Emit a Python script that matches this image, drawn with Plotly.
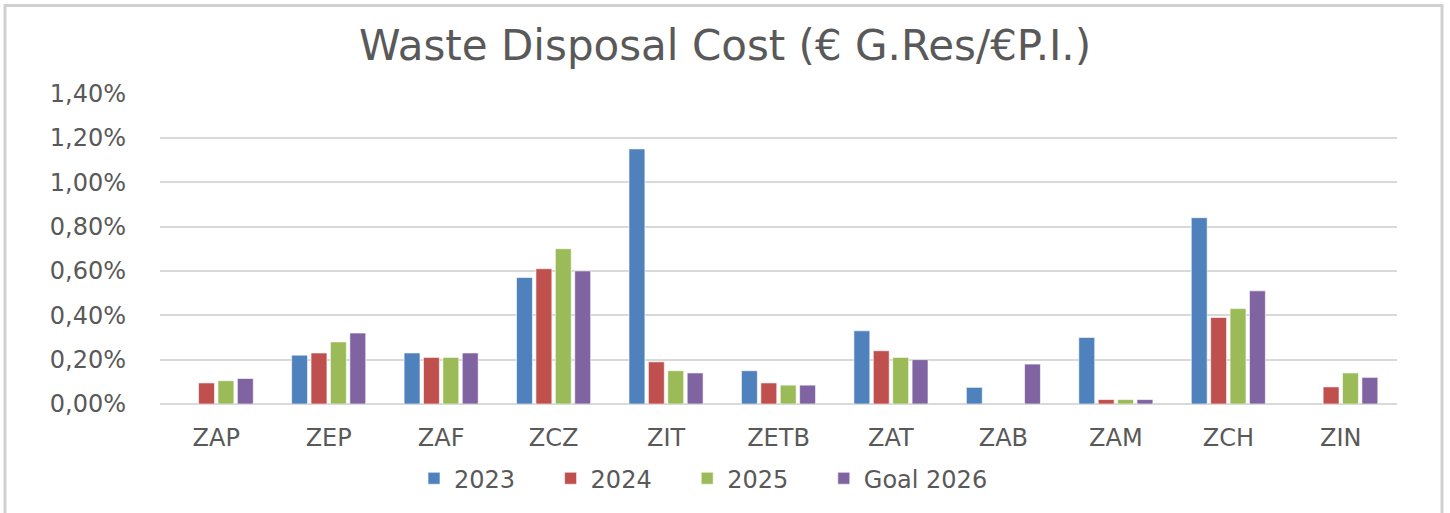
import plotly.graph_objects as go

categories = ["ZAP", "ZEP", "ZAF", "ZCZ", "ZIT", "ZETB", "ZAT", "ZAB", "ZAM", "ZCH", "ZIN"]
series_names = ["2023", "2024", "2025", "Goal 2026"]
v2023 = [None, 0.0022, 0.0023, 0.0057, 0.0115, 0.0015, 0.0033, 0.00075, 0.0030, 0.0084, None]
v2024 = [0.00095, 0.0023, 0.0021, 0.0061, 0.0019, 0.00095, 0.0024, None, 0.0002, 0.0039, 0.00077]
v2025 = [0.00105, 0.0028, 0.0021, 0.0070, 0.0015, 0.00085, 0.0021, None, 0.0002, 0.0043, 0.0014]
vgoal = [0.00115, 0.0032, 0.0023, 0.0060, 0.0014, 0.00085, 0.0020, 0.0018, 0.0002, 0.0051, 0.0012]
colors = ["#4F81BD", "#C0504D", "#9BBB59", "#8064A2"]
y_ticks = [0, 0.002, 0.004, 0.006, 0.008, 0.010, 0.012, 0.014]

FONT = "DejaVu Sans"
GREY = "#595959"
PAD = "\u00a0" * 4  # legend spacing between entries

fig = go.Figure()
for i, (name, vals, col) in enumerate(zip(series_names, [v2023, v2024, v2025, vgoal], colors)):
    label = name + (PAD if i < len(series_names) - 1 else "")
    fig.add_trace(go.Bar(
        x=categories, y=vals, name=label,
        marker=dict(color=col, line=dict(color="rgba(255,255,255,0.6)", width=1)),
    ))

fig.update_layout(
    width=1450, height=513,
    paper_bgcolor="white", plot_bgcolor="white",
    margin=dict(l=160, r=53, t=93, b=107),
    barmode="group", bargap=0.31, bargroupgap=0.18,
    separators=", ",
    title=dict(text="Waste Disposal Cost (€ G.Res/€P.I.)", x=0.5, xanchor="center",
               y=1 - 45 / 513, yanchor="middle",
               font=dict(family=FONT, size=42, color=GREY)),
    font=dict(family=FONT, color=GREY),
    xaxis=dict(showgrid=False, showline=False, ticks="", ticklabelstandoff=17,
               tickfont=dict(family=FONT, size=24, color=GREY)),
    yaxis=dict(range=[0, 0.01402], tickvals=y_ticks, tickformat=".2%",
               showgrid=True, gridcolor="#D9D9D9", gridwidth=2,
               zeroline=True, zerolinecolor="#D9D9D9", zerolinewidth=2,
               showline=False, ticks="", ticklabelstandoff=33,
               tickfont=dict(family=FONT, size=24, color=GREY)),
    legend=dict(orientation="h", x=(414 - 160) / 1237, xanchor="left", y=-0.24, yanchor="middle",
                font=dict(family=FONT, size=24, color=GREY), itemwidth=30,
                traceorder="normal"),
    shapes=[dict(type="rect", xref="paper", yref="paper",
                 x0=(5 - 160) / 1237, x1=(1442 - 160) / 1237,
                 y0=(406 - 520) / 313, y1=(406 - 5) / 313,
                 line=dict(color="#D0D0D0", width=3), fillcolor="rgba(0,0,0,0)",
                 layer="below")],
)

fig.write_html("out.html", post_script="document.body.style.margin='0';",
               config={"displayModeBar": False})
